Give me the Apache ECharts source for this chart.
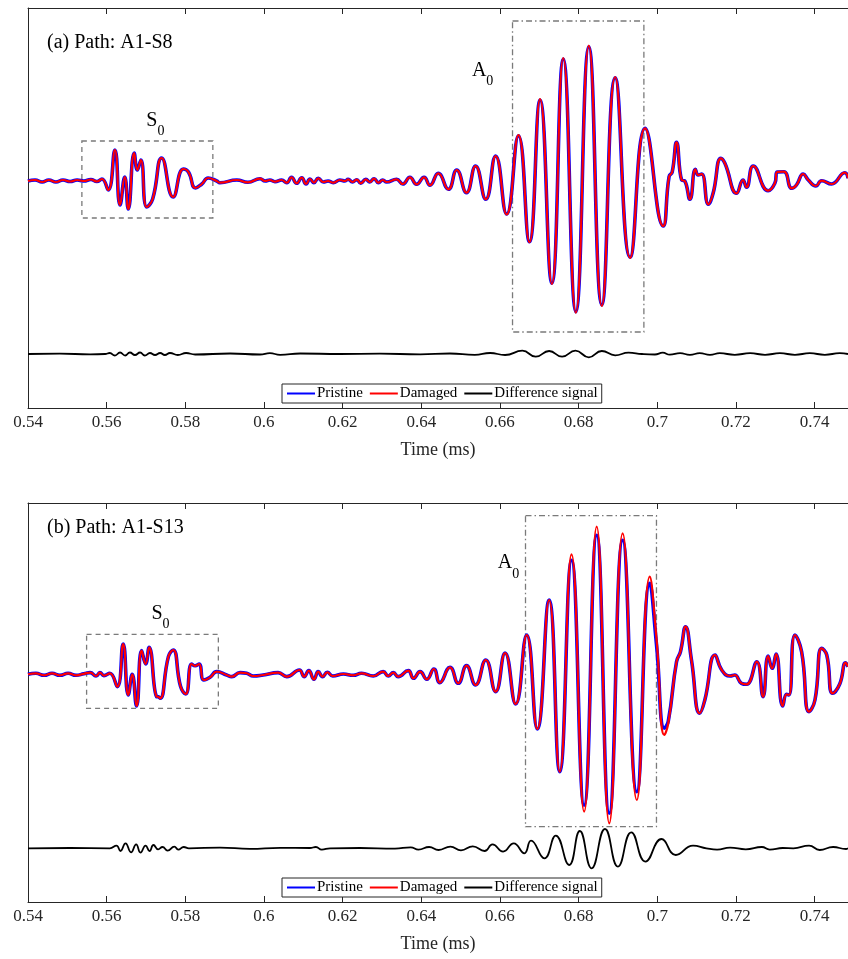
<!DOCTYPE html>
<html>
<head>
<meta charset="utf-8">
<script src="https://cdn.jsdelivr.net/npm/echarts@6/dist/echarts.min.js"></script>
<style>
html, body { margin: 0; padding: 0; background: #fff; }
#chart { width: 848px; height: 959px; }
</style>
</head>
<body>
<div id="chart"></div>
<script>
// time axis (ms)
const timeMin = 0.54, timeMax = 0.7485, timeStep = 0.02;

// (a) Path A1-S8 : [time (ms), amplitude]
const pristineA = [[0.5400,0],[0.5418,0.01],[0.5436,-0.01],[0.5453,0.01],[0.5471,-0.01],[0.5489,0.01],[0.5507,-0.005],[0.5525,0.01],[0.5542,0],[0.5560,0.015],[0.5575,-0.005],[0.5588,0.02],[0.5604,-0.09],[0.5621,0.31],[0.5634,-0.24],[0.5646,0.04],[0.5655,-0.28],[0.5670,0.28],[0.5678,0.11],[0.5687,0.21],[0.5702,-0.26],[0.5717,-0.18],[0.5740,0.23],[0.5769,-0.16],[0.5795,0.12],[0.5808,0.09],[0.5826,-0.07],[0.5842,-0.03],[0.5858,0.03],[0.5880,0],[0.5888,-0.017],[0.5931,0.01],[0.5959,-0.013],[0.5990,0.023],[0.6003,0],[0.6015,0.01],[0.6028,-0.007],[0.6045,0.01],[0.6058,-0.017],[0.6070,0.037],[0.6083,-0.023],[0.6096,0.033],[0.6107,-0.03],[0.6117,0.02],[0.6127,-0.017],[0.6138,0.027],[0.6151,-0.01],[0.6163,0],[0.6176,-0.017],[0.6193,0.01],[0.6206,0],[0.6214,0.017],[0.6225,-0.01],[0.6236,0.013],[0.6246,-0.023],[0.6259,0.017],[0.6269,-0.01],[0.6280,0.023],[0.6291,-0.017],[0.6302,0.01],[0.6312,-0.01],[0.6337,0.017],[0.6353,-0.03],[0.6371,0.037],[0.6388,-0.033],[0.6407,0.037],[0.6422,-0.043],[0.6443,0.077],[0.6469,-0.083],[0.6490,0.11],[0.6515,-0.117],[0.6538,0.15],[0.6564,-0.183],[0.6589,0.25],[0.6617,-0.33],[0.6647,0.453],[0.6675,-0.607],[0.6702,0.81],[0.6732,-1.023],[0.6761,1.22],[0.6793,-1.307],[0.6826,1.343],[0.6859,-1.24],[0.6893,1.033],[0.6931,-0.763],[0.6969,0.527],[0.7015,-0.45],[0.7030,0.043],[0.7038,0.09],[0.7049,0.387],[0.7062,0.01],[0.7070,0],[0.7083,-0.183],[0.7097,0.117],[0.7104,0.06],[0.7113,0.07],[0.7130,-0.233],[0.7142,-0.123],[0.7162,0.227],[0.7172,0.177],[0.7202,-0.123],[0.7218,0.01],[0.7227,-0.063],[0.7244,0.15],[0.7282,-0.097],[0.7299,-0.023],[0.7305,0.09],[0.7322,0.093],[0.7342,-0.073],[0.7354,-0.04],[0.7371,0.07],[0.7384,0.01],[0.7403,-0.05],[0.7418,0.003],[0.7443,-0.03],[0.7477,0.083],[0.7485,0.027]];
const damagedA = [[0.5400,0],[0.5418,0.01],[0.5436,-0.01],[0.5453,0.01],[0.5471,-0.01],[0.5489,0.01],[0.5507,-0.005],[0.5525,0.01],[0.5542,0],[0.5560,0.015],[0.5575,-0.005],[0.5588,0.02],[0.5604,-0.09],[0.5621,0.31],[0.5634,-0.24],[0.5646,0.04],[0.5655,-0.28],[0.5670,0.28],[0.5678,0.11],[0.5687,0.21],[0.5702,-0.26],[0.5717,-0.18],[0.5740,0.23],[0.5769,-0.16],[0.5795,0.12],[0.5808,0.09],[0.5826,-0.07],[0.5842,-0.03],[0.5858,0.03],[0.5880,0],[0.5888,-0.017],[0.5931,0.01],[0.5959,-0.013],[0.5990,0.023],[0.6003,0],[0.6015,0.01],[0.6028,-0.007],[0.6045,0.01],[0.6058,-0.017],[0.6070,0.037],[0.6083,-0.023],[0.6096,0.033],[0.6107,-0.03],[0.6117,0.02],[0.6127,-0.017],[0.6138,0.027],[0.6151,-0.01],[0.6163,0],[0.6176,-0.017],[0.6193,0.01],[0.6206,0],[0.6214,0.017],[0.6225,-0.01],[0.6236,0.013],[0.6246,-0.023],[0.6259,0.017],[0.6269,-0.01],[0.6280,0.023],[0.6291,-0.017],[0.6302,0.01],[0.6312,-0.01],[0.6337,0.017],[0.6353,-0.03],[0.6371,0.037],[0.6388,-0.033],[0.6407,0.037],[0.6422,-0.043],[0.6443,0.077],[0.6469,-0.083],[0.6490,0.11],[0.6515,-0.117],[0.6538,0.15],[0.6564,-0.183],[0.6589,0.25],[0.6617,-0.335],[0.6647,0.46],[0.6675,-0.612],[0.6702,0.818],[0.6732,-1.03],[0.6761,1.23],[0.6793,-1.317],[0.6826,1.353],[0.6859,-1.25],[0.6893,1.04],[0.6931,-0.768],[0.6969,0.527],[0.7015,-0.45],[0.7030,0.043],[0.7038,0.09],[0.7049,0.387],[0.7062,0.01],[0.7070,0],[0.7083,-0.183],[0.7097,0.117],[0.7104,0.06],[0.7113,0.07],[0.7130,-0.233],[0.7142,-0.123],[0.7162,0.227],[0.7172,0.177],[0.7202,-0.123],[0.7218,0.01],[0.7227,-0.063],[0.7244,0.15],[0.7282,-0.097],[0.7299,-0.023],[0.7305,0.09],[0.7322,0.093],[0.7342,-0.073],[0.7354,-0.04],[0.7371,0.07],[0.7384,0.01],[0.7403,-0.05],[0.7418,0.003],[0.7443,-0.03],[0.7477,0.083],[0.7485,0.027]];
const diffA = [[0.5400,0],[0.5481,0.003],[0.5558,-0.003],[0.5596,0],[0.5608,0.01],[0.5621,-0.015],[0.5634,0.015],[0.5647,-0.015],[0.5659,0.015],[0.5672,-0.01],[0.5685,0.015],[0.5697,-0.015],[0.5710,0.01],[0.5723,-0.01],[0.5736,0.01],[0.5748,-0.01],[0.5761,0.01],[0.5781,-0.01],[0.5802,0.01],[0.5825,-0.005],[0.5914,0.005],[0.5990,-0.005],[0.6015,0.008],[0.6041,-0.008],[0.6092,0.005],[0.6193,0],[0.6295,0.003],[0.6397,-0.003],[0.6473,0.005],[0.6536,-0.008],[0.6575,0.01],[0.6613,-0.01],[0.6657,0.033],[0.6691,-0.027],[0.6725,0.03],[0.6758,-0.027],[0.6792,0.033],[0.6826,-0.033],[0.6859,0.03],[0.6893,-0.013],[0.6927,0.013],[0.6961,0],[0.6994,-0.005],[0.7014,0.013],[0.7032,-0.007],[0.7058,0.008],[0.7083,-0.008],[0.7108,0.008],[0.7134,-0.008],[0.7159,0.008],[0.7197,-0.008],[0.7236,0.008],[0.7274,-0.008],[0.7312,0.008],[0.7350,-0.008],[0.7388,0.008],[0.7426,-0.008],[0.7464,0.008],[0.7485,0]];

// (b) Path A1-S13
const pristineB = [[0.5400,0],[0.5420,0.01],[0.5441,-0.01],[0.5461,0.01],[0.5481,-0.01],[0.5502,0.01],[0.5522,-0.01],[0.5542,0.005],[0.5558,0.017],[0.5573,-0.017],[0.5583,0.017],[0.5593,-0.013],[0.5608,0.01],[0.5627,-0.123],[0.5642,0.303],[0.5655,-0.207],[0.5665,0],[0.5676,-0.317],[0.5689,0.237],[0.5699,0.103],[0.5708,0.27],[0.5727,-0.223],[0.5731,-0.225],[0.5736,-0.24],[0.5757,0.177],[0.5769,0.243],[0.5788,-0.123],[0.5801,-0.197],[0.5816,0.103],[0.5825,0.085],[0.5835,0.103],[0.5847,-0.057],[0.5863,-0.03],[0.5880,0.027],[0.5905,-0.007],[0.5918,-0.023],[0.5939,0.017],[0.5956,0.01],[0.5973,-0.017],[0.5998,-0.007],[0.6036,0.017],[0.6058,-0.023],[0.6090,0.043],[0.6102,-0.023],[0.6114,0.037],[0.6127,-0.05],[0.6138,0.027],[0.6149,-0.023],[0.6161,0.02],[0.6175,-0.017],[0.6202,0.003],[0.6227,-0.01],[0.6248,0.01],[0.6278,-0.017],[0.6303,0.027],[0.6316,-0.017],[0.6329,0.017],[0.6341,-0.023],[0.6367,0.037],[0.6380,-0.04],[0.6397,0.027],[0.6414,-0.05],[0.6432,0.053],[0.6447,-0.083],[0.6473,0.07],[0.6494,-0.09],[0.6515,0.087],[0.6538,-0.107],[0.6564,0.143],[0.6589,-0.173],[0.6613,0.213],[0.6640,-0.297],[0.6668,0.393],[0.6695,-0.547],[0.6725,0.743],[0.6752,-0.974],[0.6782,1.14],[0.6814,-1.31],[0.6846,1.39],[0.6878,-1.39],[0.6912,1.34],[0.6948,-1.174],[0.6981,0.91],[0.6998,0.30],[0.7018,-0.54],[0.7028,-0.47],[0.7049,0.126],[0.7059,0.226],[0.7072,0.476],[0.7087,0.143],[0.7108,-0.39],[0.7121,-0.257],[0.7147,0.193],[0.7164,0.043],[0.7185,-0.017],[0.7197,-0.007],[0.7214,-0.09],[0.7227,-0.1],[0.7253,0.126],[0.7269,-0.224],[0.7282,0.183],[0.7292,0.06],[0.7302,0.203],[0.7319,-0.317],[0.7329,-0.2],[0.7335,-0.207],[0.7350,0.393],[0.7367,0.226],[0.7386,-0.374],[0.7401,-0.257],[0.7418,0.26],[0.7431,0.193],[0.7446,-0.19],[0.7464,-0.097],[0.7479,0.116],[0.7485,0.076]];
const damagedB = [[0.5400,0],[0.5420,0.01],[0.5441,-0.01],[0.5461,0.01],[0.5481,-0.01],[0.5502,0.01],[0.5522,-0.01],[0.5542,0.005],[0.5558,0.017],[0.5573,-0.017],[0.5583,0.017],[0.5593,-0.013],[0.5608,0.01],[0.5627,-0.123],[0.5642,0.303],[0.5655,-0.207],[0.5665,0],[0.5676,-0.317],[0.5689,0.237],[0.5699,0.103],[0.5708,0.27],[0.5727,-0.223],[0.5731,-0.225],[0.5736,-0.24],[0.5757,0.177],[0.5769,0.243],[0.5788,-0.123],[0.5801,-0.197],[0.5816,0.103],[0.5825,0.085],[0.5835,0.103],[0.5847,-0.057],[0.5863,-0.03],[0.5880,0.027],[0.5905,-0.007],[0.5918,-0.023],[0.5939,0.017],[0.5956,0.01],[0.5973,-0.017],[0.5998,-0.007],[0.6036,0.017],[0.6058,-0.023],[0.6090,0.043],[0.6102,-0.023],[0.6114,0.037],[0.6127,-0.05],[0.6138,0.027],[0.6149,-0.023],[0.6161,0.02],[0.6175,-0.017],[0.6202,0.003],[0.6227,-0.01],[0.6248,0.01],[0.6278,-0.017],[0.6303,0.027],[0.6316,-0.017],[0.6329,0.017],[0.6341,-0.023],[0.6367,0.037],[0.6380,-0.04],[0.6397,0.027],[0.6414,-0.05],[0.6432,0.053],[0.6447,-0.083],[0.6473,0.07],[0.6494,-0.09],[0.6515,0.087],[0.6538,-0.107],[0.6564,0.143],[0.6589,-0.173],[0.6613,0.213],[0.6640,-0.297],[0.6668,0.393],[0.6695,-0.547],[0.6725,0.743],[0.6752,-0.974],[0.6782,1.20],[0.6814,-1.374],[0.6846,1.476],[0.6878,-1.49],[0.6912,1.41],[0.6948,-1.257],[0.6981,0.976],[0.6998,0.36],[0.7018,-0.607],[0.7028,-0.49],[0.7049,0.126],[0.7059,0.226],[0.7072,0.476],[0.7087,0.143],[0.7108,-0.39],[0.7121,-0.257],[0.7147,0.193],[0.7164,0.043],[0.7185,-0.017],[0.7197,-0.007],[0.7214,-0.09],[0.7227,-0.1],[0.7253,0.126],[0.7269,-0.224],[0.7282,0.183],[0.7292,0.06],[0.7302,0.203],[0.7319,-0.317],[0.7329,-0.2],[0.7335,-0.207],[0.7350,0.393],[0.7367,0.226],[0.7386,-0.374],[0.7401,-0.257],[0.7418,0.26],[0.7431,0.193],[0.7446,-0.19],[0.7464,-0.097],[0.7479,0.116],[0.7485,0.076]];
const diffB = [[0.5400,0],[0.5507,0.003],[0.5608,0],[0.5625,0.027],[0.5635,-0.027],[0.5648,0.05],[0.5662,-0.04],[0.5675,0.04],[0.5686,-0.043],[0.5699,0.027],[0.5709,-0.027],[0.5719,0.033],[0.5731,-0.01],[0.5742,0.013],[0.5755,-0.023],[0.5772,0.017],[0.5782,-0.013],[0.5796,0.013],[0.5809,0],[0.5888,0.007],[0.5964,-0.005],[0.6041,0.005],[0.6117,0.003],[0.6132,0.013],[0.6147,-0.013],[0.6168,0],[0.6244,0.003],[0.6333,-0.003],[0.6373,0.01],[0.6393,-0.013],[0.6420,0.013],[0.6444,-0.017],[0.6474,0.017],[0.6501,-0.02],[0.6531,0.02],[0.6561,-0.027],[0.6581,0.04],[0.6608,-0.033],[0.6635,0.05],[0.6662,-0.05],[0.6679,0.077],[0.6713,-0.10],[0.6742,0.127],[0.6776,-0.167],[0.6803,0.173],[0.6833,-0.20],[0.6867,0.193],[0.6900,-0.183],[0.6934,0.16],[0.6970,-0.133],[0.7011,0.093],[0.7047,-0.067],[0.7091,0.027],[0.7125,0],[0.7152,-0.013],[0.7185,0.007],[0.7225,-0.01],[0.7266,0.013],[0.7286,-0.013],[0.7319,0.003],[0.7346,0],[0.7386,0.027],[0.7413,-0.017],[0.7447,0.013],[0.7480,-0.007],[0.7485,0]];

// the difference signal is drawn shifted below the signals
const diffOffset = [-1.73, -1.74];
const yRanges = [[-2.27, 1.73], [-2.277, 1.713]];

// annotation boxes: [t start, amp top, t end, amp bottom]
const s0Boxes = [[0.5537, 0.40, 0.5870, -0.37], [0.5549, 0.40, 0.5884, -0.34]];
const a0Boxes = [[0.6632, 1.60, 0.6966, -1.51], [0.6665, 1.586, 0.6998, -1.524]];
const panelTitles = ['(a) Path: A1-S8', '(b) Path: A1-S13'];
const legendNames = ['Pristine', 'Damaged', 'Difference signal'];

const serif = '"Liberation Serif", "Times New Roman", Times, serif';
const axisColor = '#262626';
const grids = [{ left: 28, top: 8, width: 820, height: 400 }, { left: 28, top: 503, width: 820, height: 399 }];

const subRich = {
  m: { fontFamily: serif, fontSize: 20, color: '#000', lineHeight: 28, verticalAlign: 'top' },
  s: { fontFamily: serif, fontSize: 14, color: '#000', lineHeight: 28, verticalAlign: 'bottom' }
};

function xAxis(gridIndex, position) {
  const bottom = position === 'bottom';
  return {
    type: 'value', gridIndex, position, min: timeMin, max: timeMax, interval: timeStep,
    axisLine: { show: true, onZero: false, lineStyle: { color: axisColor, width: 1 } },
    axisTick: { show: true, inside: true, length: 6, lineStyle: { color: axisColor } },
    axisLabel: { show: bottom, showMaxLabel: false, fontFamily: serif, fontSize: 17, color: axisColor, margin: 6 },
    splitLine: { show: false },
    name: bottom ? 'Time (ms)' : '',
    nameLocation: 'middle', nameGap: 33,
    nameTextStyle: { fontFamily: serif, fontSize: 18, color: axisColor }
  };
}

function yAxis(gridIndex) {
  return {
    type: 'value', gridIndex, min: yRanges[gridIndex][0], max: yRanges[gridIndex][1],
    axisLine: { show: true, onZero: false, lineStyle: { color: axisColor, width: 1 } },
    axisTick: { show: false }, axisLabel: { show: false }, splitLine: { show: false }
  };
}

function boxArea(box, dash, label) {
  return [{
    coord: [box[0], box[1]],
    itemStyle: { color: 'rgba(0,0,0,0)', borderColor: '#7a7a7a', borderWidth: 1.3, borderType: dash },
    label: label
  }, { coord: [box[2], box[3]] }];
}

function panelSeries(i, pristine, damaged, diff) {
  const base = { type: 'line', xAxisIndex: i * 2, yAxisIndex: i, symbol: 'none', smooth: 0.5, animation: false };
  return [
    Object.assign({}, base, {
      name: 'Pristine', data: pristine, z: 3,
      lineStyle: { color: '#0000ff', width: 3.6 }, itemStyle: { color: '#0000ff' },
      markArea: {
        silent: true,
        data: [
          boxArea(s0Boxes[i], [5, 4], { show: true, position: 'top', distance: 2, offset: [8, 0], formatter: '{m|S}{s|0}', rich: subRich }),
          boxArea(a0Boxes[i], [6, 3, 1.5, 3], { show: true, position: i === 0 ? [-40, 40] : [-27, 38], formatter: '{m|A}{s|0}', rich: subRich })
        ]
      }
    }),
    Object.assign({}, base, {
      name: 'Damaged', data: damaged, z: 4,
      lineStyle: { color: '#ff0000', width: 2.2 }, itemStyle: { color: '#ff0000' }
    }),
    Object.assign({}, base, {
      name: 'Difference signal', data: diff.map(d => [d[0], d[1] + diffOffset[i]]), z: 4,
      lineStyle: { color: '#000', width: 1.8 }, itemStyle: { color: '#000' }
    })
  ];
}

function legend(top) {
  return {
    data: legendNames, left: 282, top, orient: 'horizontal',
    borderColor: axisColor, borderWidth: 1, backgroundColor: '#fff',
    padding: [2, 4, 2, 4], itemGap: 6, itemWidth: 28, itemHeight: 10,
    itemStyle: { opacity: 0 },
    textStyle: { fontFamily: serif, fontSize: 15, color: '#000', padding: [0, 0, 0, -3] }
  };
}

const chart = echarts.init(document.getElementById('chart'));
chart.setOption({
  animation: false,
  backgroundColor: '#fff',
  title: [
    { text: panelTitles[0], left: 42, top: 28, textStyle: { fontFamily: serif, fontSize: 20, fontWeight: 'normal', color: '#000' } },
    { text: panelTitles[1], left: 42, top: 513, textStyle: { fontFamily: serif, fontSize: 20, fontWeight: 'normal', color: '#000' } }
  ],
  legend: [legend(384), legend(878)],
  grid: grids,
  xAxis: [xAxis(0, 'bottom'), xAxis(0, 'top'), xAxis(1, 'bottom'), xAxis(1, 'top')],
  yAxis: [yAxis(0), yAxis(1)],
  series: panelSeries(0, pristineA, damagedA, diffA).concat(panelSeries(1, pristineB, damagedB, diffB))
});
window.addEventListener('resize', () => chart.resize());
</script>
</body>
</html>
